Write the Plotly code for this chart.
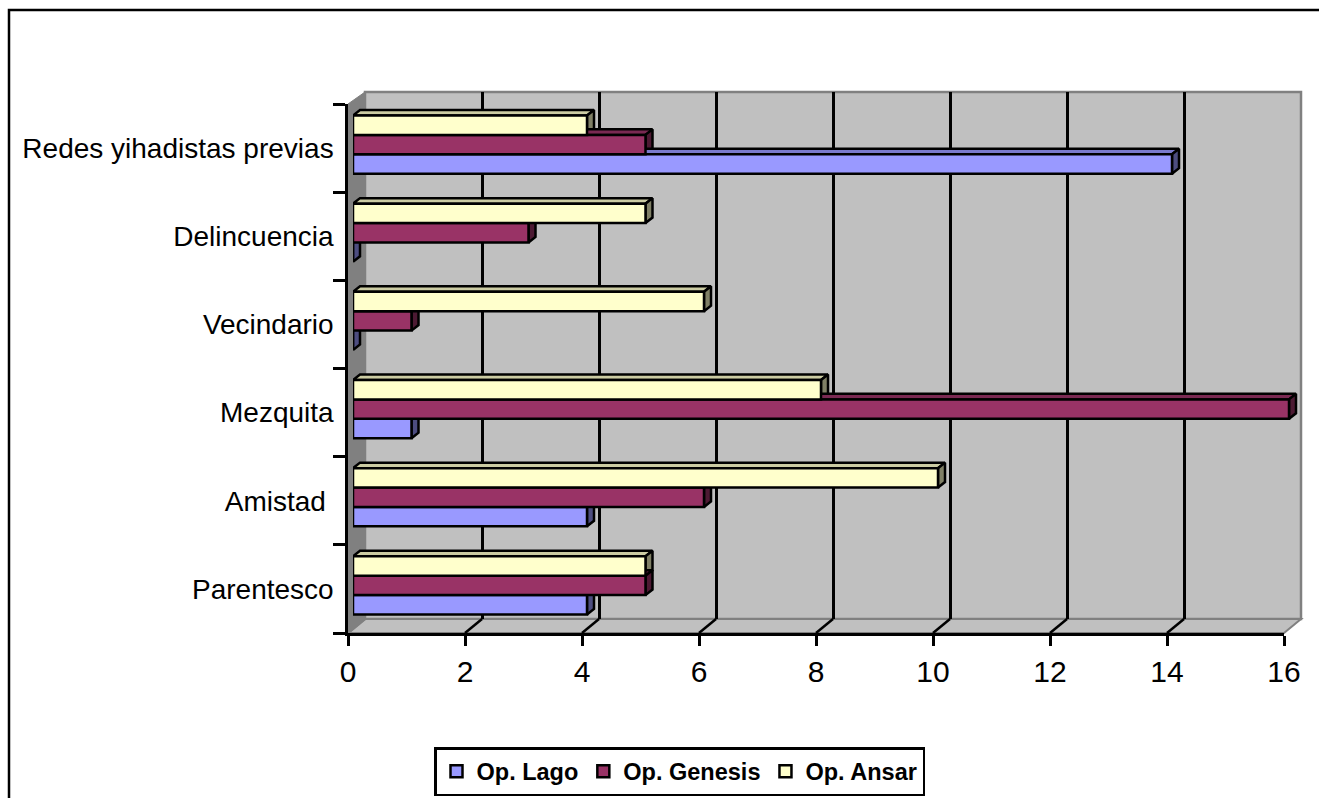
import plotly.graph_objects as go

categories = ["Parentesco", "Amistad\u00a0", "Mezquita", "Vecindario", "Delincuencia", "Redes yihadistas previas"]
op_lago = [4, 4, 1, 0, 0, 14]
op_genesis = [5, 6, 16, 1, 3, 5]
op_ansar = [5, 10, 8, 6, 5, 4]
x_ticks = [0, 2, 4, 6, 8, 10, 12, 14, 16]

W, H = 1319, 798
def px(v): return v / W
def py(v): return 1 - v / H

FONT = "Liberation Sans, Arial, sans-serif"
series = [
    ("Op. Lago", op_lago, "#9999FF", "#7A7ACC", "#4D4D80", -0.22),
    ("Op. Genesis", op_genesis, "#993366", "#7A2952", "#4D1A33", 0.0),
    ("Op. Ansar", op_ansar, "#FFFFCC", "#CCCCA3", "#808066", 0.22),
]
bar_h = 0.22
dx, dy = 7 / 58.5, 5.5 / 88.0
LW = 2.5

fig = go.Figure()
# Base subplot holds the back-wall grid; x2/y2 the bar depth faces; x3/y3 the bars; x4/y4 the front axes
fig.add_trace(go.Scatter(x=[], y=[], xaxis="x", yaxis="y", showlegend=False, hoverinfo="skip"))

for name, vals, front, top, side, off in reversed(series):
    tx, ty, sx, sy = [], [], [], []
    for i in reversed(range(len(vals))):
        v = vals[i]
        lo, hi = i + off - bar_h / 2, i + off + bar_h / 2
        if v > 0:
            tx += [0, dx, v + dx, v, 0, None]
            ty += [hi, hi + dy, hi + dy, hi, hi, None]
        sx += [v, v + dx, v + dx, v, v, None]
        sy += [lo, lo + dy, hi + dy, hi, lo, None]
    for xs, ys, c in ((tx, ty, top), (sx, sy, side)):
        fig.add_trace(go.Scatter(x=xs, y=ys, xaxis="x2", yaxis="y2", mode="lines", fill="toself",
                                 fillcolor=c, line=dict(color="black", width=LW), cliponaxis=False,
                                 showlegend=False, hoverinfo="skip"))

for name, vals, front, top, side, off in series:
    fig.add_trace(go.Bar(y=list(range(len(vals))), x=vals, orientation="h", name=name, xaxis="x3", yaxis="y3",
                         cliponaxis=False,
                         marker=dict(color=front, line=dict(color="black", width=LW))))

fig.add_trace(go.Scatter(x=[], y=[], xaxis="x4", yaxis="y4", showlegend=False, hoverinfo="skip"))

shapes = [
    dict(type="path", xref="paper", yref="paper", layer="below",
         path=f"M {px(9)} {py(10)} L {px(1335)} {py(10)} L {px(1335)} {py(815)} L {px(9)} {py(815)} Z",
         line=dict(color="black", width=2.5), fillcolor="white"),
    # back wall
    dict(type="rect", xref="paper", yref="paper", layer="below", x0=px(365), x1=px(1301), y0=py(619), y1=py(92),
         fillcolor="#C0C0C0", line=dict(color="#808080", width=2.5)),
    # side wall
    dict(type="path", xref="paper", yref="paper", layer="below",
         path=f"M {px(348)} {py(104)} L {px(365)} {py(92)} L {px(365)} {py(619)} L {px(348)} {py(633)} Z",
         fillcolor="#808080", line=dict(color="#808080", width=1)),
    # floor
    dict(type="path", xref="paper", yref="paper", layer="below",
         path=f"M {px(348)} {py(633)} L {px(365)} {py(619)} L {px(1301)} {py(619)} L {px(1284)} {py(633)} Z",
         fillcolor="#C0C0C0", line=dict(color="#808080", width=2)),
]
for t in x_ticks[:-1]:
    x0 = 348 + t * 58.5
    dark = "#808080" if t == 0 else "black"
    shapes.append(dict(type="line", xref="paper", yref="paper", layer="below",
                       x0=px(x0), x1=px(x0 + 17), y0=py(633), y1=py(619),
                       line=dict(color=dark, width=2.5)))

n = len(categories)
common_off = dict(showgrid=False, zeroline=False, showticklabels=False, ticks="", showline=False)
xr = [0, 16]
xr_bars = [0, 16.4]
yr = [-0.5, n - 0.5]
bars_x = [px(353), px(353 + 16.4 * 58.5)]
bars_y = [py(629.5), py(100.5)]

fig.update_layout(
    width=W, height=H, margin=dict(l=0, r=0, t=0, b=0, autoexpand=False), autosize=False,
    paper_bgcolor="white", plot_bgcolor="rgba(0,0,0,0)",
    barmode="group", bargap=0.34, bargroupgap=0,
    font=dict(family=FONT, color="black"),
    shapes=shapes,
    xaxis=dict(domain=[px(365), px(1301)], range=xr, anchor="y", showgrid=True, gridcolor="black", gridwidth=2.5,
               tickmode="array", tickvals=x_ticks[1:-1], zeroline=False, showticklabels=False, ticks="", showline=False),
    yaxis=dict(domain=[py(619), py(92)], range=yr, anchor="x", **common_off),
    xaxis2=dict(domain=bars_x, range=xr_bars, anchor="y2", **common_off),
    yaxis2=dict(domain=bars_y, range=yr, anchor="x2", **common_off),
    xaxis3=dict(domain=bars_x, range=xr_bars, anchor="y3", **common_off),
    yaxis3=dict(domain=bars_y, range=yr, anchor="x3", **common_off),
    xaxis4=dict(domain=[px(348), px(1284)], range=xr, anchor="y4", showgrid=False, zeroline=False,
                showline=True, linecolor="black", linewidth=2.5,
                tickmode="array", tickvals=x_ticks, ticks="outside", ticklen=10, tickwidth=2.5, tickcolor="black",
                tickfont=dict(size=30, family=FONT, color="black")),
    yaxis4=dict(domain=[py(633), py(104)], range=yr, anchor="x4", showgrid=False, zeroline=False,
                showline=True, linecolor="black", linewidth=2.5,
                tickmode="array", tickvals=list(range(n)), ticktext=categories,
                ticks="outside", ticklen=6, tickwidth=2, tickcolor="rgba(0,0,0,0)",
                tickfont=dict(size=28, family=FONT, color="black"),
                minor=dict(tickmode="array", tickvals=[i - 0.5 for i in range(n + 1)], ticks="outside",
                           ticklen=12, tickwidth=2.5, tickcolor="black", showgrid=False)),
    legend=dict(orientation="h", x=px(434), y=py(747), xanchor="left", yanchor="top",
                bgcolor="white", bordercolor="black", borderwidth=2.5,
                font=dict(size=23.5, family=FONT, color="black", weight="bold"),
                traceorder="normal", itemwidth=30),
)

fig.write_html("out.html", post_script="document.body.style.margin='0';", config=dict(displayModeBar=False))
